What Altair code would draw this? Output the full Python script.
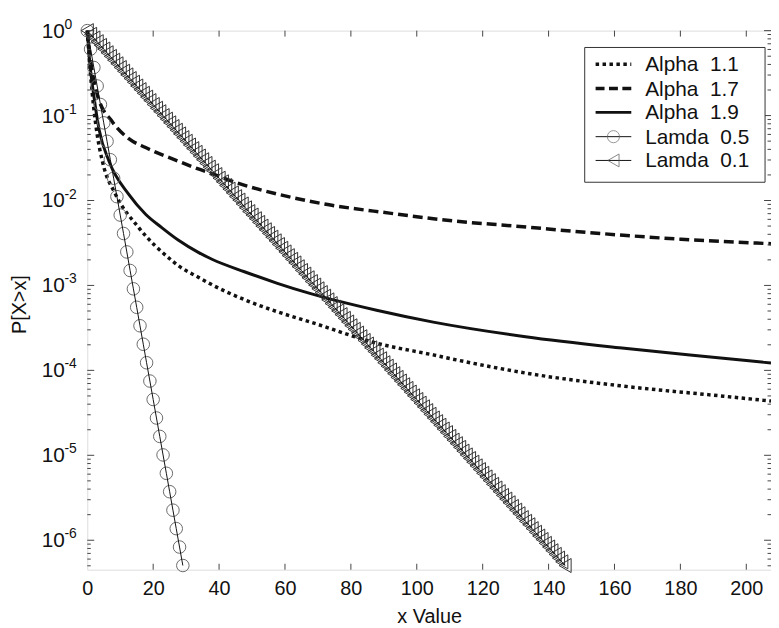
import altair as alt
import pandas as pd

# ---------------- data ----------------
alpha11_x = [0, 1, 2, 3, 4.6, 8.6, 15.6, 25.7, 27.7, 33.7, 37.6, 47.7, 57.7, 67.8, 87.8, 105,
             112, 133, 163, 193, 207.5]
alpha11_y = [1.0, 0.30, 0.12, 0.06, 0.0288, 0.0118, 0.0048, 0.00196, 0.0017, 0.00125, 0.00103,
             0.00068, 0.00049, 0.00037, 0.000209, 0.000152, 0.000133, 9.3e-5, 6.5e-5, 4.97e-5, 4.35e-5]

alpha17_x = [0, 1, 3.1, 7.6, 12.6, 17.7, 27.7, 33.7, 37.6, 45.7, 57.7, 71.9, 91.7, 111.9, 129.9,
             151.9, 180.2, 207.5]
alpha17_y = [1.0, 0.45, 0.173, 0.0844, 0.0535, 0.042, 0.029, 0.0235, 0.0208, 0.0160, 0.0119,
             0.0091, 0.0071, 0.0057, 0.0050, 0.0042, 0.0035, 0.0031]

alpha19_x = [0, 0.8, 2, 3.6, 6.6, 12.6, 17.7, 22.6, 27.7, 33.7, 38, 47.7, 57.7, 67.8, 87.8, 105,
             133, 163, 193, 207.5]
alpha19_y = [1.0, 0.40, 0.17, 0.068, 0.029, 0.0118, 0.0069, 0.0048, 0.0034, 0.00245, 0.00202,
             0.00145, 0.00106, 0.00080, 0.00051, 0.00037, 0.000249, 0.000182, 0.000139, 0.000122]

lam05_x = list(range(30))
lam05_y = [1.0, 0.607, 0.368, 0.223, 0.135, 0.0821, 0.0498, 0.0302, 0.0183, 0.0111,
           6.74e-3, 4.09e-3, 2.48e-3, 1.50e-3, 9.12e-4, 5.53e-4, 3.35e-4, 2.03e-4, 1.23e-4, 7.49e-5,
           4.54e-5, 2.75e-5, 1.67e-5, 1.01e-5, 6.14e-6, 3.73e-6, 2.26e-6, 1.37e-6, 8.32e-7, 5.04e-7]

lam01_x = list(range(146))
lam01_y = [1.0, 0.905, 0.819, 0.741, 0.670, 0.607, 0.549, 0.497, 0.449, 0.407,
           0.368, 0.333, 0.301, 0.273, 0.247, 0.223, 0.202, 0.183, 0.165, 0.150,
           0.135, 0.122, 0.111, 0.100, 0.0907, 0.0821, 0.0743, 0.0672, 0.0608, 0.0550,
           0.0498, 0.0450, 0.0408, 0.0369, 0.0334, 0.0302, 0.0273, 0.0247, 0.0224, 0.0202,
           0.0183, 0.0166, 0.0150, 0.0136, 0.0123, 0.0111, 0.0101, 0.0091, 0.0082, 0.0074,
           6.74e-3, 6.10e-3, 5.52e-3, 4.99e-3, 4.52e-3, 4.09e-3, 3.70e-3, 3.35e-3, 3.03e-3, 2.74e-3,
           2.48e-3, 2.24e-3, 2.03e-3, 1.84e-3, 1.66e-3, 1.50e-3, 1.36e-3, 1.23e-3, 1.11e-3, 1.01e-3,
           9.12e-4, 8.25e-4, 7.47e-4, 6.76e-4, 6.11e-4, 5.53e-4, 5.01e-4, 4.53e-4, 4.10e-4, 3.71e-4,
           3.35e-4, 3.04e-4, 2.75e-4, 2.49e-4, 2.25e-4, 2.04e-4, 1.84e-4, 1.67e-4, 1.51e-4, 1.37e-4,
           1.23e-4, 1.12e-4, 1.01e-4, 9.14e-5, 8.27e-5, 7.49e-5, 6.77e-5, 6.13e-5, 5.55e-5, 5.02e-5,
           4.54e-5, 4.11e-5, 3.72e-5, 3.36e-5, 3.04e-5, 2.75e-5, 2.49e-5, 2.26e-5, 2.04e-5, 1.85e-5,
           1.67e-5, 1.51e-5, 1.37e-5, 1.24e-5, 1.12e-5, 1.01e-5, 9.17e-6, 8.30e-6, 7.51e-6, 6.79e-6,
           6.14e-6, 5.56e-6, 5.03e-6, 4.55e-6, 4.12e-6, 3.73e-6, 3.37e-6, 3.05e-6, 2.76e-6, 2.50e-6,
           2.26e-6, 2.05e-6, 1.85e-6, 1.67e-6, 1.52e-6, 1.37e-6, 1.24e-6, 1.12e-6, 1.02e-6, 9.19e-7,
           8.32e-7, 7.52e-7, 6.81e-7, 6.16e-7, 5.57e-7, 5.04e-7]

x_ticks = [0, 20, 40, 60, 80, 100, 120, 140, 160, 180, 200]
y_ticks = [1, 0.1, 0.01, 1e-3, 1e-4, 1e-5, 1e-6]
y_tick_base = ["10"] * 7
y_tick_exp = ["0", "-1", "-2", "-3", "-4", "-5", "-6"]
y_minor = [m * 10.0 ** e for e in range(-7, 0) for m in range(2, 10) if m * 10.0 ** e >= 4.6e-7]

legend_labels = ["Alpha\u00a0 1.1", "Alpha\u00a0 1.7", "Alpha\u00a0 1.9", "Lamda\u00a0 0.5", "Lamda\u00a0 0.1"]

X_DOMAIN = [0, 207.5]
Y_DOMAIN = [4.5e-7, 1]
W, H = 690, 544
FONT = "Liberation Sans"
INK = "#111111"

xs = alt.Scale(domain=X_DOMAIN, nice=False, zero=False)
ys = alt.Scale(type="log", domain=Y_DOMAIN, nice=False)

x_axis = alt.Axis(values=x_ticks, ticks=False, domain=False, grid=False, labelFontSize=20,
                  labelFont=FONT, labelColor=INK, labelPadding=9, labelFlush=False,
                  title="x Value", titleFont=FONT, titleFontSize=20, titleFontWeight="normal",
                  titleColor=INK, titleX=345, titleY=47, titleBaseline="middle")
y_axis = alt.Axis(values=y_ticks, ticks=False, domain=False, grid=False, labels=False,
                  title="P[X>x]", titleFont=FONT, titleFontSize=20, titleFontWeight="normal",
                  titleColor=INK, titleX=-68, titleY=276, titleBaseline="middle", titleAngle=270)

X = lambda: alt.X("x:Q", scale=xs, axis=x_axis)
Y = lambda: alt.Y("y:Q", scale=ys, axis=y_axis)


def series(xv, yv):
    return pd.DataFrame({"x": xv, "y": yv})


def line_layer(xv, yv, dash, width, interp="linear"):
    kw = dict(color=INK, strokeWidth=width, interpolate=interp)
    if dash:
        kw["strokeDash"] = dash
    return alt.Chart(series(xv, yv)).mark_line(**kw).encode(x=X(), y=Y())


def point_layer(xv, yv, shape, size, stroke, sw):
    return alt.Chart(series(xv, yv)).mark_point(
        shape=shape, filled=False, size=size, stroke=stroke, strokeWidth=sw, opacity=1
    ).encode(x=X(), y=Y())


layers = []
layers.append(line_layer(alpha11_x, alpha11_y, [3.5, 3.5], 3.5, "monotone"))
layers.append(line_layer(alpha17_x, alpha17_y, [10, 5], 3.5, "monotone"))
layers.append(line_layer(alpha19_x, alpha19_y, None, 3, "monotone"))
layers.append(point_layer(lam05_x, lam05_y, "circle", 160, "#6a6a6a", 1))
layers.append(line_layer(lam05_x, lam05_y, None, 1))
layers.append(point_layer(lam01_x, lam01_y, "triangle-left", 200, "#333333", 1))
layers.append(line_layer(lam01_x, lam01_y, None, 1))

# inside tick marks
xt = pd.DataFrame({"x": x_ticks[1:]})
layers.append(alt.Chart(xt).mark_rule(color="#444", strokeWidth=1).encode(
    x=X(), y=alt.value(H), y2=alt.value(H - 6)))
layers.append(alt.Chart(xt).mark_rule(color="#444", strokeWidth=1).encode(
    x=X(), y=alt.value(0), y2=alt.value(6)))
yt = pd.DataFrame({"y": y_ticks, "base": y_tick_base, "exp": y_tick_exp})
ym = pd.DataFrame({"y": y_minor})
for df, ln in ((yt, 7), (ym, 3.5)):
    layers.append(alt.Chart(df).mark_rule(color="#444", strokeWidth=1).encode(
        y=Y(), x=alt.value(0), x2=alt.value(ln)))
    layers.append(alt.Chart(df).mark_rule(color="#444", strokeWidth=1).encode(
        y=Y(), x=alt.value(W), x2=alt.value(W - ln)))

# y tick labels "10" with raised exponent
layers.append(alt.Chart(yt).mark_text(align="left", baseline="middle", font=FONT, fontSize=21,
                                      color=INK, dy=1).encode(
    y=Y(), x=alt.value(-46), text="base:N"))
layers.append(alt.Chart(yt).mark_text(align="left", baseline="middle", font=FONT, fontSize=14,
                                      color=INK, dy=-6).encode(
    y=Y(), x=alt.value(-23), text="exp:N"))

# legend box
one = pd.DataFrame({"k": [0]})
layers.append(alt.Chart(one).mark_rect(fill="white", stroke="#333", strokeWidth=1).encode(
    x=alt.value(502), x2=alt.value(684), y=alt.value(17), y2=alt.value(153)))

rows = [34, 58.5, 82.5, 107, 131]
styles = [([3.5, 3.5], 3.5), ([9, 4.5], 3.5), (None, 3), (None, 1), (None, 1)]
for i, (lab, ry, (dash, sw)) in enumerate(zip(legend_labels, rows, styles)):
    kw = dict(color=INK, strokeWidth=sw)
    if dash:
        kw["strokeDash"] = dash
    layers.append(alt.Chart(one).mark_rule(**kw).encode(
        x=alt.value(513), x2=alt.value(549), y=alt.value(ry)))
    if i == 3:
        layers.append(alt.Chart(one).mark_point(shape="circle", filled=False, size=150,
                                                stroke="#6a6a6a", strokeWidth=1).encode(
            x=alt.value(531), y=alt.value(ry)))
    if i == 4:
        layers.append(alt.Chart(one).mark_point(shape="triangle-left", filled=False, size=170,
                                                stroke="#555", strokeWidth=1).encode(
            x=alt.value(531), y=alt.value(ry)))
    layers.append(alt.Chart(one).mark_text(align="left", baseline="middle", font=FONT,
                                           fontSize=21, color=INK).encode(
        x=alt.value(563), y=alt.value(ry + 1), text=alt.value(lab)))

chart = alt.layer(*layers).properties(
    width=W, height=H,
    autosize=alt.AutoSizeParams(type="none"),
    padding={"left": 80, "top": 20, "right": 0, "bottom": 56},
).configure_view(stroke="#444", strokeWidth=1).configure(background="white")

chart.save("out.html", embed_options={"renderer": "svg", "actions": False})
